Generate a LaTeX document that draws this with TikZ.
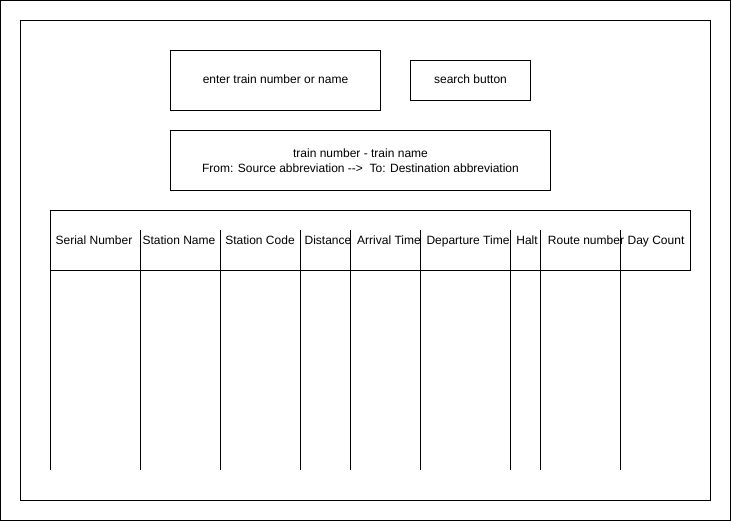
\documentclass[tikz,border=0pt]{standalone}
\usepackage{fontspec}
\setmainfont{Liberation Sans}
\begin{document}
\begin{tikzpicture}[x=0.75pt,y=-0.75pt,
  every path/.style={line width=0.75pt},
  box/.style={draw,line width=0.75pt,inner sep=0pt,outer sep=0pt,anchor=north west,font=\fontsize{9}{11}\selectfont,align=center},
  hdr/.style={inner sep=0pt,outer sep=0pt,text height=6.5pt,text depth=2pt,font=\fontsize{9}{11}\selectfont}]
\useasboundingbox (0,0) rectangle (731,521);
\node[box,minimum width=730pt*0.75,minimum height=520pt*0.75] (outer) at (0.5,0.5) {};
\node[box,minimum width=690pt*0.75,minimum height=480pt*0.75] (inner) at (20.5,20.5) {};
\node[box,minimum width=210pt*0.75,minimum height=60pt*0.75,text height=6.5pt,text depth=1.5pt] (input) at (170.5,50.5) {enter train number or name};
\node[box,minimum width=120pt*0.75,minimum height=40pt*0.75,text height=6.5pt,text depth=1.5pt] (search) at (410.5,60.5) {search button};
\node[box,minimum width=380pt*0.75,minimum height=60pt*0.75] (info) at (170.5,130.5) {train number - train name\\From: Source abbreviation -{}->\ \ To: Destination abbreviation};
\node[box,minimum width=640pt*0.75,minimum height=60pt*0.75] (header) at (50.5,210.5) {};
\coordinate (l0t) at (50.5,210.5); \coordinate (l0b) at (50.5,470);
\draw (l0t) -- (l0b);
\foreach \i/\x in {1/140,2/220,3/300,4/350,5/420,6/510,7/540,8/620}{
  \coordinate (l\i t) at (\x.5,230);
  \coordinate (l\i b) at (\x.5,470);
  \draw (l\i t) -- (l\i b);
}
\node[hdr] (h1) at (94,241) {Serial Number};
\node[hdr] (h2) at (179,241) {Station Name};
\node[hdr] (h3) at (260,241) {Station Code};
\node[hdr] (h4) at (328,241) {Distance};
\node[hdr] (h5) at (389,241) {Arrival Time};
\node[hdr] (h6) at (468,241) {Departure Time};
\node[hdr] (h7) at (527,241) {Halt};
\node[hdr] (h8) at (586,241) {Route number};
\node[hdr] (h9) at (656,241) {Day Count};
\end{tikzpicture}
\end{document}
